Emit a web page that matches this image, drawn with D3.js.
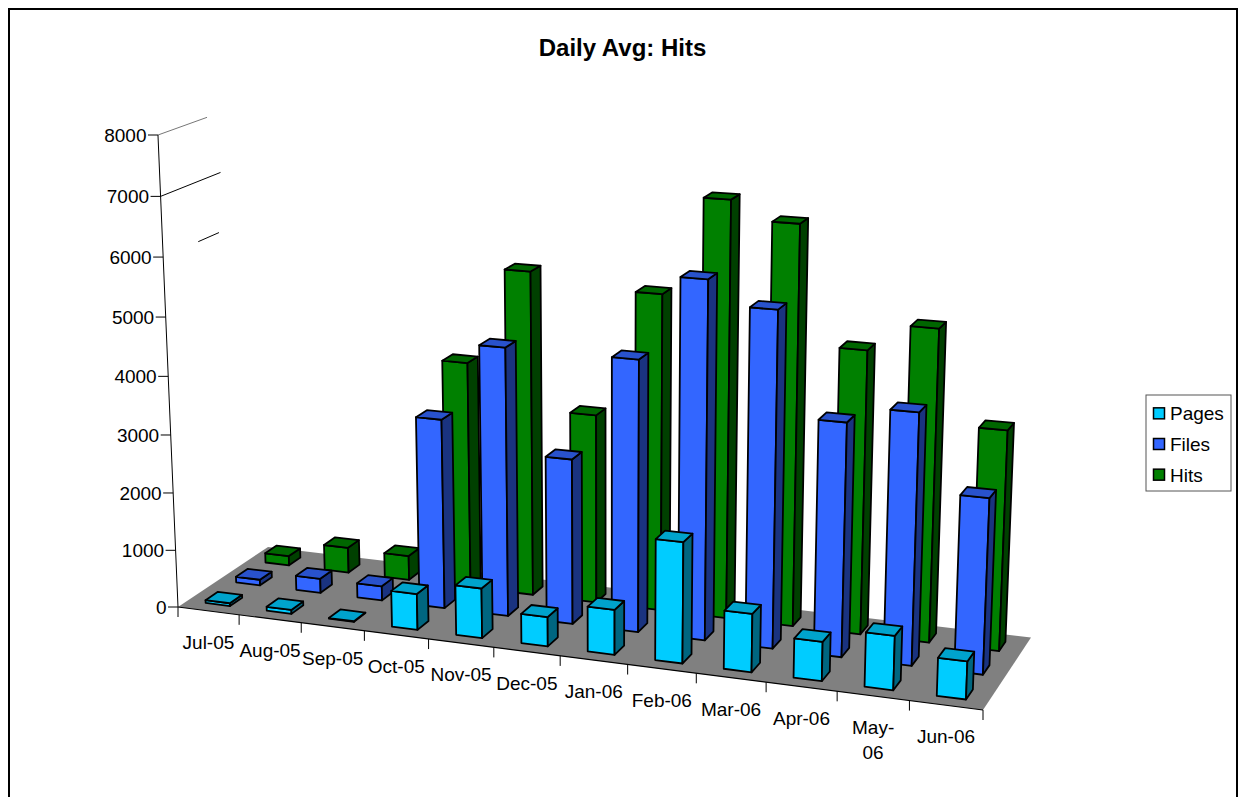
<!DOCTYPE html>
<html>
<head>
<meta charset="utf-8">
<style>
html, body { margin: 0; padding: 0; background: #fff; overflow: hidden; }
svg { display: block; font-family: "Liberation Sans", Arial, sans-serif; fill: #000; }
</style>
<script src="https://d3js.org/d3.v7.min.js"></script>
</head>
<body>
<svg id="chart" width="1238" height="797"></svg>
<script>
var months = ['Jul-05', 'Aug-05', 'Sep-05', 'Oct-05', 'Nov-05', 'Dec-05', 'Jan-06', 'Feb-06', 'Mar-06', 'Apr-06', 'May-06', 'Jun-06'];
var seriesNames = ['Pages', 'Files', 'Hits'];
var pages = [50, 70, 10, 620, 850, 500, 760, 2020, 970, 650, 890, 620];
var files = [100, 250, 250, 3270, 4590, 2820, 4590, 5985, 5590, 3880, 4150, 2890];
var hits = [170, 450, 430, 3950, 5600, 3260, 5400, 7030, 6720, 4760, 5210, 3665];
var axisTicks = [0, 1000, 2000, 3000, 4000, 5000, 6000, 7000, 8000];
// what is left of the wall gridlines: value, from, to (share of floor depth)
var gridValues = [8000, 7000, 6000];
var gridFrom = [0, 0, 0.36];
var gridTo = [0.5, 0.62, 0.58];

var colors = {
    Pages: { front: '#00ccff', top: '#00a3cc', side: '#006680' },
    Files: { front: '#3366ff', top: '#2952cc', side: '#1a3380' },
    Hits: { front: '#008000', top: '#006600', side: '#004000' }
};

var svg = d3.select('#chart');

// Solve the plane homography from the four floor corners, then add the height
// column from the vanishing point of the verticals and the top of the axis.
function solve(A, b) {
    var n = b.length;
    var M = A.map(function (r, i) { return r.concat([b[i]]); });
    for (var c = 0; c < n; c++) {
        var p = c;
        for (var r = c + 1; r < n; r++) {
            if (Math.abs(M[r][c]) > Math.abs(M[p][c])) { p = r; }
        }
        var tmp = M[c]; M[c] = M[p]; M[p] = tmp;
        for (var r2 = 0; r2 < n; r2++) {
            if (r2 === c) { continue; }
            var f = M[r2][c] / M[c][c];
            for (var k = c; k <= n; k++) { M[r2][k] -= f * M[c][k]; }
        }
    }
    return M.map(function (r, i) { return r[n] / r[i]; });
}

var floorModel = [[0, 0], [1, 0], [1, 1], [0, 1]];
var floorScreen = [[178, 607], [983, 710], [1031, 637.5], [268, 547]];
var A = [], b = [];
floorModel.forEach(function (m, i) {
    var s = floorScreen[i];
    A.push([m[0], m[1], 1, 0, 0, 0, -m[0] * s[0], -m[1] * s[0]]); b.push(s[0]);
    A.push([0, 0, 0, m[0], m[1], 1, -m[0] * s[1], -m[1] * s[1]]); b.push(s[1]);
});
var H = solve(A, b);
var vanishX = 609, vanishY = 10770, axisTopY = 135;
// w = k*z with z=1 at the top of the axis
var heightK = (axisTopY - floorScreen[0][1]) / (vanishY - axisTopY);

function project(u, v, z) {
    var w = H[6] * u + H[7] * v + 1 + heightK * z;
    return [
        (H[0] * u + H[1] * v + H[2] + heightK * vanishX * z) / w,
        (H[3] * u + H[4] * v + H[5] + heightK * vanishY * z) / w
    ];
}

var xScale = d3.scaleBand().domain(months).range([0, 1]).paddingInner(0.6).paddingOuter(0.3);
var depthScale = d3.scaleBand().domain(seriesNames).range([0, 1]).paddingInner(0.6).paddingOuter(0.3);
var heightScale = d3.scaleLinear().domain([0, 8000]).range([0, 1]);
var monthEdge = d3.scaleLinear().domain([0, months.length]).range([0, 1]);

function pointsAttr(pts) {
    return pts.map(function (p) { return project(p[0], p[1], p[2]).map(function (c) { return c.toFixed(2); }).join(','); }).join(' ');
}

// floor
svg.append('polygon')
    .attr('points', pointsAttr([[0, 0, 0], [1, 0, 0], [1, 1, 0], [0, 1, 0]]))
    .attr('fill', '#808080')
    .attr('stroke', 'none');
svg.append('line')
    .attr('x1', project(0, 0, 0)[0]).attr('y1', project(0, 0, 0)[1])
    .attr('x2', project(1, 0, 0)[0]).attr('y2', project(1, 0, 0)[1])
    .attr('stroke', '#000').attr('stroke-width', 1.2);

// wall gridline remains
gridValues.forEach(function (val, i) {
    var z = heightScale(val);
    var p0 = project(0, gridFrom[i], z), p1 = project(0, gridTo[i], z);
    svg.append('line')
        .attr('x1', p0[0]).attr('y1', p0[1]).attr('x2', p1[0]).attr('y2', p1[1])
        .attr('stroke', val === 8000 ? '#777' : '#000').attr('stroke-width', 1);
});

// value axis
var axisTop = project(0, 0, 1), axisBottom = project(0, 0, 0);
svg.append('line')
    .attr('x1', axisTop[0]).attr('y1', axisTop[1]).attr('x2', axisBottom[0]).attr('y2', axisBottom[1])
    .attr('stroke', '#000').attr('stroke-width', 1);
axisTicks.forEach(function (t) {
    var p = project(0, 0, heightScale(t));
    svg.append('line')
        .attr('x1', p[0] - 10).attr('y1', p[1]).attr('x2', p[0]).attr('y2', p[1])
        .attr('stroke', '#000').attr('stroke-width', 1);
    svg.append('text')
        .attr('x', p[0] - 11.5).attr('y', p[1] + 7)
        .attr('text-anchor', 'end')
        .attr('font-size', 19)
        .text(t);
});

// category ticks and labels
d3.range(months.length + 1).forEach(function (i) {
    var p = project(monthEdge(i), 0, 0);
    svg.append('line')
        .attr('x1', p[0]).attr('y1', p[1]).attr('x2', p[0]).attr('y2', p[1] + 10)
        .attr('stroke', '#000').attr('stroke-width', 1);
});
months.forEach(function (m, i) {
    var p = project(monthEdge(i + 0.5), 0, 0);
    var lines = m === 'May-06' ? ['May-', '06'] : [m];
    var label = svg.append('text')
        .attr('text-anchor', 'middle')
        .attr('font-size', 19);
    lines.forEach(function (l, j) {
        label.append('tspan')
            .attr('x', p[0])
            .attr('y', p[1] + 38 + j * 25)
            .text(l);
    });
});

// bars, back row first, left to right
var rows = [
    { name: 'Hits', values: hits },
    { name: 'Files', values: files },
    { name: 'Pages', values: pages }
];
rows.forEach(function (row) {
    var c = colors[row.name];
    var v0 = depthScale(row.name), v1 = v0 + depthScale.bandwidth();
    row.values.forEach(function (val, i) {
        var u0 = xScale(months[i]), u1 = u0 + xScale.bandwidth();
        var z = heightScale(val);
        var g = svg.append('g')
            .attr('stroke', '#000').attr('stroke-width', 1.8).attr('stroke-linejoin', 'round');
        g.append('polygon').attr('fill', c.front)
            .attr('points', pointsAttr([[u0, v0, 0], [u1, v0, 0], [u1, v0, z], [u0, v0, z]]));
        g.append('polygon').attr('fill', c.side)
            .attr('points', pointsAttr([[u1, v0, 0], [u1, v1, 0], [u1, v1, z], [u1, v0, z]]));
        g.append('polygon').attr('fill', c.top)
            .attr('points', pointsAttr([[u0, v0, z], [u1, v0, z], [u1, v1, z], [u0, v1, z]]));
    });
});

// title
svg.append('text')
    .attr('x', 622.5).attr('y', 56)
    .attr('text-anchor', 'middle')
    .attr('font-size', 24)
    .attr('font-weight', 'bold')
    .text('Daily Avg: Hits');

// legend
svg.append('rect')
    .attr('x', 1146).attr('y', 395).attr('width', 85).attr('height', 96)
    .attr('fill', '#fff').attr('stroke', '#555').attr('stroke-width', 1);
var legendY = d3.scaleBand().domain(seriesNames).range([398, 490]);
seriesNames.forEach(function (name) {
    var y = legendY(name) + legendY.bandwidth() / 2;
    svg.append('rect')
        .attr('x', 1153.5).attr('y', y - 5.5).attr('width', 11).attr('height', 11)
        .attr('fill', colors[name].front).attr('stroke', '#000').attr('stroke-width', 1.5);
    svg.append('text')
        .attr('x', 1170).attr('y', y + 7)
        .attr('font-size', 19)
        .text(name);
});

// chart frame
svg.append('rect')
    .attr('x', 9).attr('y', 9).attr('width', 1228).attr('height', 800)
    .attr('fill', 'none').attr('stroke', '#000').attr('stroke-width', 2);
</script>
</body>
</html>
